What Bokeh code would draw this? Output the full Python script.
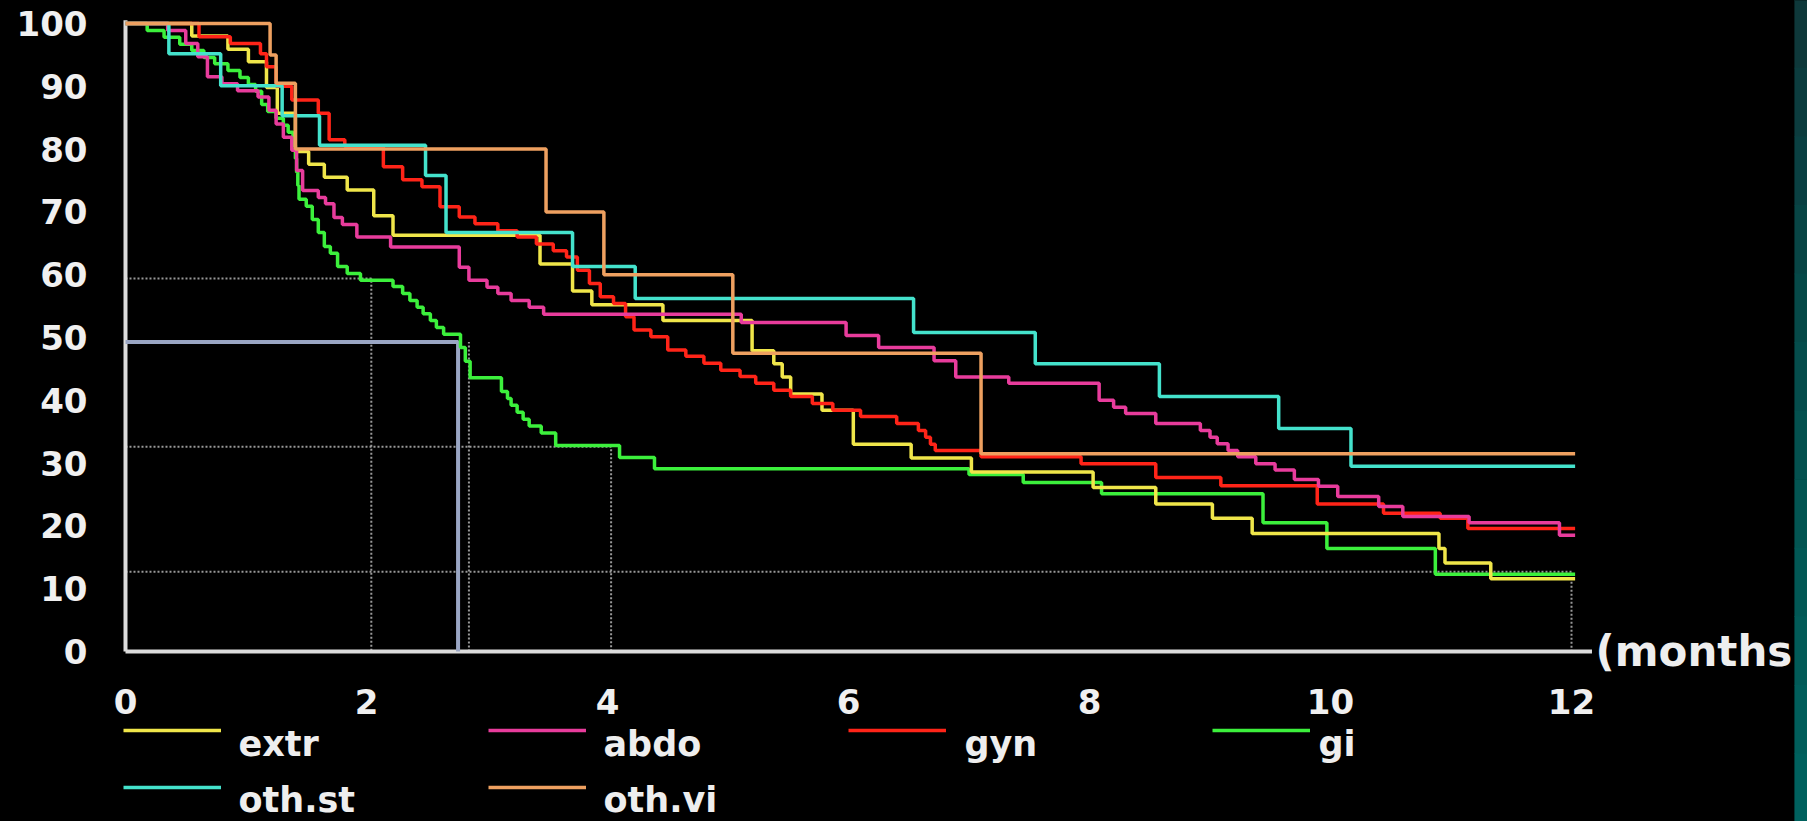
from bokeh.plotting import figure
from bokeh.models import (FixedTicker, Legend, LegendItem, Label, Range1d)
from bokeh.core.properties import value
from bokeh.embed import file_html
from bokeh.resources import INLINE

# ---------------- data ----------------
month_ticks = [0, 2, 4, 6, 8, 10, 12]
percent_ticks = [0, 10, 20, 30, 40, 50, 60, 70, 80, 90, 100]

extr_time = [0, 0.55, 0.85, 1.02, 1.17, 1.26, 1.41, 1.52, 1.65, 1.84,
             2.06, 2.22, 3.44, 3.71, 3.87, 4.46, 5.20, 5.38, 5.45, 5.52,
             5.78, 6.04, 6.52, 7.02, 8.03, 8.55, 9.02, 9.35, 10.90, 10.95,
             11.33, 12.03]
extr_surv = [100, 98.0, 95.9, 93.9, 89.8, 85.7, 79.6, 77.6, 75.5, 73.5,
             69.4, 66.3, 61.7, 57.4, 55.2, 52.7, 47.9, 45.8, 43.7, 41.0,
             38.4, 33.0, 30.8, 28.6, 26.1, 23.5, 21.2, 18.8, 16.4, 14.1,
             11.6, 11.6]

abdo_time = [0, 0.35, 0.50, 0.60, 0.68, 0.80, 0.93, 1.10, 1.19, 1.25,
             1.31, 1.38, 1.42, 1.47, 1.60, 1.66, 1.73, 1.80, 1.92, 2.20,
             2.77, 2.85, 3.00, 3.09, 3.20, 3.35, 3.47, 5.11, 5.98, 6.25,
             6.71, 6.89, 7.33, 8.08, 8.20, 8.30, 8.55, 8.92, 9.00, 9.06,
             9.15, 9.23, 9.38, 9.54, 9.70, 9.90, 10.06, 10.40, 10.60, 11.15,
             11.90, 12.03]
abdo_surv = [100, 98.9, 96.8, 94.7, 91.5, 90.4, 89.3, 88.3, 86.2, 84.0,
             81.9, 79.8, 76.6, 73.4, 72.3, 71.3, 69.1, 68.0, 66.0, 64.4,
             61.2, 59.1, 58.0, 57.0, 55.9, 54.8, 53.7, 52.4, 50.3, 48.4,
             46.3, 43.7, 42.7, 40.0, 38.9, 37.9, 36.3, 35.2, 34.1, 33.1,
             32.0, 31.0, 29.9, 28.9, 27.4, 26.3, 24.7, 23.1, 21.5, 20.5,
             18.5, 18.5]

gyn_time = [0, 0.61, 0.87, 1.12, 1.17, 1.25, 1.38, 1.60, 1.69, 1.82,
            2.14, 2.30, 2.46, 2.61, 2.77, 2.90, 3.09, 3.25, 3.41, 3.55,
            3.66, 3.75, 3.85, 3.94, 4.05, 4.15, 4.22, 4.36, 4.50, 4.65,
            4.80, 4.94, 5.10, 5.23, 5.38, 5.52, 5.70, 5.87, 6.10, 6.40,
            6.58, 6.64, 6.68, 6.72, 7.10, 7.93, 8.55, 9.09, 9.89, 10.44,
            10.91, 11.14, 12.03]
gyn_surv = [100, 97.9, 96.8, 95.2, 93.1, 90.0, 87.8, 85.7, 81.5, 80.4,
            77.2, 75.1, 74.0, 70.8, 69.2, 68.1, 67.0, 66.0, 64.9, 63.8,
            62.8, 60.7, 58.6, 56.5, 55.4, 53.3, 51.2, 50.1, 48.0, 47.0,
            45.9, 44.8, 43.8, 42.7, 41.6, 40.6, 39.5, 38.4, 37.4, 36.3,
            35.2, 34.1, 33.0, 32.0, 31.0, 29.9, 27.7, 26.4, 23.5, 22.0,
            21.2, 19.6, 19.6]

gi_time = [0, 0.18, 0.32, 0.45, 0.55, 0.65, 0.74, 0.85, 0.95, 1.02,
           1.08, 1.13, 1.18, 1.25, 1.31, 1.35, 1.39, 1.41, 1.42, 1.43,
           1.44, 1.50, 1.55, 1.60, 1.65, 1.70, 1.76, 1.84, 1.95, 2.22,
           2.30, 2.36, 2.42, 2.47, 2.53, 2.58, 2.64, 2.78, 2.82, 2.86,
           3.12, 3.17, 3.20, 3.25, 3.30, 3.35, 3.45, 3.57, 4.10, 4.39,
           7.00, 7.45, 8.10, 9.44, 9.97, 10.87, 12.03]
gi_surv = [100, 98.9, 97.8, 96.7, 95.7, 94.6, 93.6, 92.5, 91.4, 90.3,
           89.2, 87.1, 86.0, 84.9, 83.8, 82.7, 80.6, 78.5, 76.3, 74.2,
           72.0, 70.9, 68.8, 66.7, 64.5, 63.4, 61.3, 60.2, 59.1, 58.1,
           57.0, 55.9, 54.8, 53.8, 52.7, 51.6, 50.5, 48.4, 46.2, 43.6,
           41.4, 40.3, 39.2, 38.1, 37.0, 35.9, 34.8, 32.8, 30.9, 29.1,
           28.2, 26.9, 25.1, 20.5, 16.4, 12.3, 12.3]

othst_time = [0, 0.36, 0.79, 1.30, 1.61, 2.49, 2.66, 3.71, 4.23, 6.54,
              7.55, 8.58, 9.57, 10.17, 12.03]
othst_surv = [100, 95.2, 90.1, 85.3, 80.6, 75.8, 66.7, 61.3, 56.2, 50.8,
              45.8, 40.6, 35.5, 29.5, 29.5]

othvi_time = [0, 1.20, 1.25, 1.41, 3.49, 3.97, 5.04, 7.10, 12.03]
othvi_surv = [100, 95.0, 90.5, 80.0, 70.0, 60.0, 47.5, 31.5, 31.5]

series_names = ["extr", "abdo", "gyn", "gi", "oth.st", "oth.vi"]
series_colors = ["#f0e64a", "#e83c9c", "#ff2418", "#3cf03c", "#44e2cc", "#eea060"]

# dotted reference lines (level, time) and highlighted median
ref_levels = [59.4, 32.6, 12.7]
ref_times = [2.04, 4.03, 12.0]
median_level = 49.3
median_time = 2.76
median_dotted_time = 2.85
axis_x_end = 12.17
axis_y_end = 100.5

# ---------------- figure ----------------
W, H = 1807, 821
p = figure(width=W, height=H, output_backend="svg", toolbar_location=None,
           x_range=Range1d(-1.0373, 13.9585), y_range=Range1d(-27.07, 103.66),
           min_border_left=0, min_border_right=0, min_border_top=0,
           min_border_bottom=0,
           background_fill_color="black", border_fill_color="black",
           outline_line_color=None)
p.grid.visible = False

page_css = (
    "html{background:linear-gradient(to bottom,#0e383a,#00615e) right top/13px 100% no-repeat,#000 !important;"
    "margin:0 !important;padding:0 !important;overflow:hidden;}"
    "body{background:transparent !important;margin:0 !important;padding:0 !important;overflow:hidden;}"
)
try:
    from bokeh.models import GlobalInlineStyleSheet
    p.stylesheets = [GlobalInlineStyleSheet(css=page_css)]
except Exception:
    pass

p.xaxis.ticker = FixedTicker(ticks=month_ticks)
p.yaxis.ticker = FixedTicker(ticks=percent_ticks)
for ax in (p.xaxis[0], p.yaxis[0]):
    ax.fixed_location = 0
    ax.axis_line_color = None
    ax.major_tick_line_color = None
    ax.minor_tick_line_color = None
    ax.major_tick_out = 0
    ax.major_tick_in = 0
    ax.major_label_text_color = "#f0f0f0"
    ax.major_label_text_font = "DejaVu Sans"
    ax.major_label_text_font_style = "bold"
    ax.major_label_text_font_size = "34px"
p.yaxis.major_label_standoff = 38
p.xaxis.major_label_standoff = 38

# slide edge band on the right (decoration)
band_colors = ["#0e383a", "#0c3c3e", "#0a4042", "#084545", "#064948", "#054d4c",
               "#04514f", "#035552", "#025855", "#025b58", "#015e5b", "#00615e"]
band_left = 13.85
band_right = 14.6
band_top = 103.8
band_bottom = -27.2
band_h = (band_top - band_bottom) / len(band_colors)
p.quad(left=[band_left] * len(band_colors), right=[band_right] * len(band_colors),
       top=[band_top - k * band_h + 0.05 for k in range(len(band_colors))],
       bottom=[band_top - (k + 1) * band_h - 0.05 for k in range(len(band_colors))],
       fill_color=band_colors, line_color=None)

# dotted reference lines
for lvl, t in zip(ref_levels, ref_times):
    p.line([0, t, t], [lvl, lvl, 0], line_color="#a8a8a8", line_width=2,
           line_dash="2 2", line_alpha=0.9)
p.line([median_dotted_time, median_dotted_time], [0, median_level],
       line_color="#a8a8a8", line_width=2, line_dash="2 2", line_alpha=0.9)

# axis lines
p.line([0, axis_x_end], [0, 0], line_color="#dcdcdc", line_width=4)
p.line([0, 0], [0, axis_y_end], line_color="#dcdcdc", line_width=4)

# median highlight
p.line([0, median_time, median_time], [median_level, median_level, 0],
       line_color="#9aa6c4", line_width=4)

# survival curves
series_time = [extr_time, abdo_time, gyn_time, gi_time, othst_time, othvi_time]
series_surv = [extr_surv, abdo_surv, gyn_surv, gi_surv, othst_surv, othvi_surv]
renderers = {}
draw_order = [3, 0, 2, 1, 4, 5]
for i in draw_order:
    r = p.step(series_time[i], series_surv[i], mode="after",
               line_color=series_colors[i], line_width=3.5)
    renderers[series_names[i]] = r

# legend: line samples (Legend glyphs) with the names set below-right of them,
# as in the original layout (4 columns x 2 rows)
legend_cols = [123, 488, 848, 1212]       # px from left, line sample start
legend_rows = [71, 14]                    # px from bottom, legend box bottom
label_x = [0.9378, 3.9668, 6.9627, 9.9004]  # name start (months scale)
label_y = [-14.65, -23.57]                  # name centre (percent scale)
for i, name in enumerate(series_names):
    col = i % 4
    row = i // 4
    lg = Legend(items=[LegendItem(label=value(" "), renderers=[renderers[name]])],
                location=(legend_cols[col], legend_rows[row]),
                orientation="horizontal", glyph_width=98, glyph_height=40,
                label_height=40, label_standoff=0, padding=0, margin=0,
                spacing=0, border_line_color=None, background_fill_alpha=0,
                label_text_font_size="8px", label_text_alpha=0)
    p.add_layout(lg)
    p.add_layout(Label(x=label_x[col], y=label_y[row], text=name,
                       text_color="#eeeeee", text_font="DejaVu Sans",
                       text_font_style="bold", text_font_size="35px",
                       text_baseline="middle", text_align="left"))

p.add_layout(Label(x=12.2, y=0, text="(months", text_color="#eeeeee",
                   text_font="DejaVu Sans", text_font_style="bold",
                   text_font_size="42px", text_baseline="middle",
                   text_align="left"))

open("out.html", "w").write(file_html(p, INLINE))
